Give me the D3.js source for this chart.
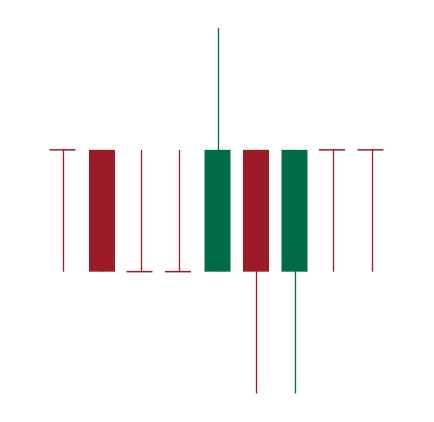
<!DOCTYPE html>
<html>
<head>
<meta charset="utf-8">
<script src="https://cdn.jsdelivr.net/npm/d3@7"></script>
<style>
  html, body { margin: 0; padding: 0; background: #ffffff; }
  svg { display: block; }
</style>
</head>
<body>
<svg id="chart" width="434" height="422"></svg>
<script>
const categories = ["1", "2", "3", "4", "5", "6", "7", "8", "9"];
const openValues  = [2, 2, 1, 1, 1, 2, 1, 2, 2];
const closeValues = [2, 1, 1, 1, 2, 1, 2, 2, 2];
const highValues  = [2, 2, 2, 2, 3, 2, 2, 2, 2];
const lowValues   = [1, 1, 1, 1, 1, 0, 0, 1, 1];

const upColor = "#006b45";
const downColor = "#9b1c28";

const data = categories.map((c, i) => ({
  cat: c, open: openValues[i], close: closeValues[i],
  high: highValues[i], low: lowValues[i]
}));

const svg = d3.select("#chart");

const x = d3.scaleBand()
  .domain(categories)
  .range([44.25, 390.75])
  .paddingInner(0.325)
  .paddingOuter(0.1625);

const y = d3.scaleLinear()
  .domain([0, 3])
  .range([393.5, 28]);

const color = d => d.close > d.open ? upColor : downColor;
const cx = d => x(d.cat) + x.bandwidth() / 2;

const g = svg.append("g");

// wicks
g.selectAll("line.wick")
  .data(data)
  .join("line")
  .attr("class", "wick")
  .attr("x1", d => Math.round(cx(d)) + 0.5)
  .attr("x2", d => Math.round(cx(d)) + 0.5)
  .attr("y1", d => y(d.high))
  .attr("y2", d => y(d.low))
  .attr("stroke", color)
  .attr("stroke-width", 1.3);

// bodies
g.selectAll("rect.body")
  .data(data.filter(d => d.open !== d.close))
  .join("rect")
  .attr("class", "body")
  .attr("x", d => x(d.cat))
  .attr("width", x.bandwidth())
  .attr("y", d => y(Math.max(d.open, d.close)))
  .attr("height", d => Math.abs(y(d.open) - y(d.close)))
  .attr("fill", color);

// doji bars (open == close)
g.selectAll("line.doji")
  .data(data.filter(d => d.open === d.close))
  .join("line")
  .attr("class", "doji")
  .attr("x1", d => x(d.cat) - 1)
  .attr("x2", d => x(d.cat) + x.bandwidth() - 1)
  .attr("y1", d => y(d.open))
  .attr("y2", d => y(d.open))
  .attr("stroke", color)
  .attr("stroke-width", 1.5);
</script>
</body>
</html>
